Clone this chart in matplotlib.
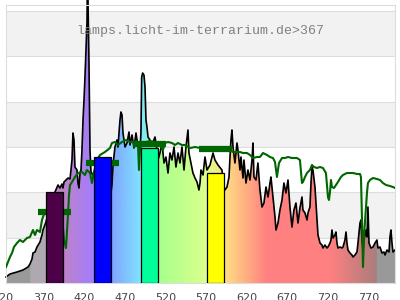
import numpy as np
import matplotlib
matplotlib.use('Agg')
import matplotlib.pyplot as plt
from matplotlib.transforms import blended_transform_factory

# lamp spectrum (relative intensity)
lamp_wl = [323.8, 328.7, 337.3, 344.7, 350.9, 353.3, 355.8, 357.0, 359.5, 361.9,
           365.6, 368.1, 369.3, 373.0, 377.9, 384.1, 387.8, 390.2, 392.7, 393.9,
           395.2, 397.6, 400.1, 402.6, 405.0, 406.2, 407.5, 408.7, 411.2, 412.4,
           413.6, 414.9, 416.1, 417.3, 418.6, 419.8, 421.0, 422.2, 423.5, 424.1,
           425.9, 427.2, 428.4, 430.9, 433.3, 439.5, 445.6, 451.8, 453.0, 454.2,
           455.5, 457.9, 460.4, 461.6, 464.1, 465.3, 466.6, 467.8, 470.3, 472.7,
           475.2, 476.4, 478.9, 481.3, 483.8, 486.3, 488.7, 489.9, 490.8, 492.0,
           493.6, 494.9, 496.1, 497.3, 498.6, 501.0, 503.5, 507.2, 509.6, 510.9,
           513.3, 515.8, 518.3, 520.7, 523.2, 525.6, 528.1, 530.6, 533.0, 535.5,
           537.9, 540.4, 542.9, 545.3, 547.8, 549.0, 551.5, 553.9, 556.4, 558.9,
           561.3, 562.6, 563.8, 566.3, 568.7, 571.2, 574.9, 578.6, 581.0, 584.7,
           589.6, 592.1, 593.3, 595.8, 598.3, 599.5, 600.7, 601.9, 603.2, 605.6,
           608.1, 609.3, 611.8, 613.0, 615.5, 616.7, 619.2, 621.6, 624.1, 626.6,
           627.8, 629.0, 631.5, 633.9, 636.4, 638.9, 641.3, 643.8, 646.3, 648.7,
           649.9, 652.4, 654.9, 656.1, 658.6, 661.0, 663.5, 665.9, 668.4, 670.9,
           673.3, 675.8, 678.2, 680.7, 683.2, 685.6, 688.1, 689.3, 691.8, 694.3,
           695.5, 697.9, 699.2, 700.4, 701.6, 704.1, 705.3, 707.8, 710.3, 712.7,
           713.9, 716.4, 718.9, 720.1, 722.6, 723.8, 725.0, 726.3, 728.7, 729.9,
           731.2, 732.4, 734.9, 737.3, 738.6, 741.0, 742.3, 743.5, 744.7, 747.2,
           749.6, 750.9, 753.3, 755.8, 757.0, 759.5, 760.7, 762.0, 763.2, 764.4,
           766.9, 768.1, 769.3, 770.6, 773.0, 775.5, 778.0, 780.4, 781.6, 784.1,
           786.6, 789.0, 790.3, 792.7, 795.2, 796.4, 797.6, 798.9, 800.1, 802.6]
lamp_val = [6, 9, 11, 13, 16, 19, 24, 30, 31, 36,
            41, 48, 53, 61, 78, 91, 98, 95, 99, 95,
            101, 103, 105, 104, 123, 150, 143, 116, 113, 100,
            95, 110, 113, 133, 163, 183, 206, 233, 261, 313,
            223, 133, 111, 108, 113, 118, 120, 108, 90, 98,
            118, 136, 143, 136, 163, 171, 168, 150, 136, 140,
            151, 138, 148, 135, 150, 136, 133, 150, 206, 210,
            208, 196, 163, 156, 146, 143, 138, 146, 133, 123,
            130, 140, 120, 126, 110, 130, 123, 136, 116, 130,
            120, 136, 113, 136, 153, 130, 120, 110, 105, 101,
            93, 100, 113, 108, 126, 113, 118, 130, 123, 118,
            113, 96, 93, 96, 106, 126, 143, 153, 136, 120,
            140, 133, 113, 126, 105, 123, 100, 113, 103, 123,
            140, 106, 103, 120, 93, 76, 80, 96, 86, 100,
            106, 86, 66, 53, 60, 73, 83, 100, 90, 103,
            76, 56, 73, 80, 60, 75, 86, 73, 70, 63,
            70, 76, 100, 116, 113, 96, 80, 48, 40, 38,
            35, 38, 35, 36, 40, 43, 53, 45, 48, 51,
            40, 35, 36, 35, 36, 43, 51, 40, 33, 30,
            28, 26, 28, 31, 40, 60, 63, 43, 33, 43,
            53, 46, 76, 40, 35, 36, 40, 43, 35, 36,
            30, 31, 28, 33, 31, 46, 53, 40, 31, 33]

# sunlight reference
sun_wl = [323.8, 326.2, 328.7, 331.2, 333.6, 337.3, 341.0, 344.7, 349.6, 353.3,
          357.0, 359.5, 361.9, 365.6, 368.1, 369.3, 373.0, 384.1, 392.7, 395.2,
          397.6, 400.1, 401.3, 402.6, 405.0, 408.7, 412.4, 417.3, 421.0, 423.5,
          427.2, 429.6, 432.1, 435.8, 439.5, 445.6, 451.8, 454.2, 457.9, 461.6,
          466.6, 471.5, 476.4, 481.3, 486.3, 487.5, 488.7, 491.2, 496.1, 501.0,
          505.9, 509.6, 513.3, 517.0, 519.5, 523.2, 528.1, 531.8, 535.5, 540.4,
          544.1, 550.3, 556.4, 562.6, 574.9, 587.2, 593.3, 598.3, 603.2, 608.1,
          611.8, 615.5, 620.4, 624.1, 627.8, 632.7, 636.4, 640.1, 645.0, 648.7,
          652.4, 654.9, 657.3, 659.8, 663.5, 667.2, 670.9, 675.8, 681.9, 685.6,
          688.1, 689.3, 691.8, 694.3, 697.9, 700.4, 702.9, 706.6, 710.3, 713.9,
          717.6, 720.1, 721.3, 722.6, 723.8, 725.0, 727.5, 729.9, 732.4, 736.1,
          738.6, 743.5, 747.2, 750.9, 755.8, 759.5, 760.7, 762.0, 763.2, 764.4,
          766.9, 768.1, 769.3, 771.8, 775.5, 780.4, 784.1, 787.8, 791.5, 796.4,
          800.1, 802.6]
sun_val = [16, 21, 26, 30, 36, 40, 43, 41, 45, 46,
           53, 48, 53, 51, 63, 66, 73, 83, 68, 43,
           35, 68, 88, 98, 101, 106, 110, 111, 108, 113,
           110, 100, 111, 123, 128, 131, 135, 140, 141, 138,
           141, 143, 141, 141, 138, 113, 133, 140, 141, 142,
           141, 140, 138, 133, 140, 141, 140, 138, 140, 138,
           138, 135, 136, 135, 136, 135, 133, 133, 131, 131,
           131, 130, 130, 128, 125, 126, 126, 130, 128, 126,
           125, 121, 106, 120, 125, 125, 126, 125, 125, 123,
           100, 101, 106, 110, 113, 118, 116, 115, 116, 115,
           110, 86, 83, 91, 103, 96, 95, 98, 101, 106,
           108, 110, 110, 110, 109, 109, 106, 63, 16, 46,
           76, 90, 100, 103, 105, 104, 103, 100, 98, 97,
           96, 95]

# band bars: lamp level and sunlight level per band
band_center = [383.3, 442.5, 500.4, 581.6]
band_lamp = [91, 126, 135, 110]
band_sun = [71, 120, 139, 134]
band_color = ['#4b0048', '#0000ff', '#00ff99', '#ffff00']

tick_wl = [320, 370, 420, 470, 520, 570, 620, 670, 720, 770]

# colour under the spectrum
grad_wl = [323.8, 353.2, 353.4, 373.0, 394.0, 433.0, 452.0, 491.0, 510.0,
           571.0, 592.0, 645.0, 723.0, 780.2, 780.4, 802.6]
grad_rgb = [(153, 153, 153), (153, 153, 153), (176, 168, 176), (176, 168, 176),
            (190, 130, 200), (160, 125, 255), (128, 160, 255), (128, 230, 255),
            (165, 255, 140), (220, 255, 140), (255, 225, 130), (255, 128, 128),
            (255, 128, 128), (170, 125, 125), (153, 153, 153), (153, 153, 153)]

x0, x1 = 323.8, 802.6
ytop = 278
step = 272 / 6

fig = plt.figure(figsize=(4, 3), dpi=100)
ax = fig.add_axes([6 / 400, 17 / 300, 389 / 400, 278 / 300])

# background bands and grid
for k in (1, 3, 5):
    ax.axhspan(k * step, (k + 1) * step, color='#f2f2f2', lw=0, zorder=0)
for k in range(1, 7):
    ax.axhline(k * step, color='#dddddd', lw=0.8, zorder=0.5)

# gradient fill clipped to the lamp spectrum
poly = ax.fill_between(lamp_wl, lamp_val, 0, facecolor='none', lw=0)
wl_grid = np.linspace(x0, x1, 1500)
rgb = np.stack([np.interp(wl_grid, grad_wl, [c[i] for c in grad_rgb]) for i in range(3)],
               axis=-1) / 255.0
img = ax.imshow(rgb[np.newaxis, :, :], extent=[x0, x1, 0, ytop], aspect='auto',
                origin='lower', zorder=1, interpolation='bilinear')
img.set_clip_path(poly.get_paths()[0], transform=ax.transData)

ax.plot(lamp_wl, lamp_val, color='black', lw=1.2, zorder=2, clip_on=False)
ax.plot(sun_wl, sun_val, color='#006600', lw=1.5, zorder=3)

bc = np.array(band_center)
ax.hlines(band_sun, bc - 20.5, bc + 20.5, color='#006600', lw=4.5,
          capstyle='butt', zorder=3.5)
ax.bar(band_center, band_lamp, width=20.5, color=band_color, edgecolor='black',
       linewidth=0.9, zorder=4)

ax.set_xlim(x0, x1)
ax.set_ylim(0, ytop)
ax.set_xticks([])
ax.set_yticks([])
for s in ax.spines.values():
    s.set_color('#dddddd')
    s.set_linewidth(0.8)

trans = blended_transform_factory(ax.transData, ax.transAxes)
for t in tick_wl:
    ax.text(t, -0.036, str(t), transform=trans, ha='center', va='top',
            fontsize=8, color='#444444', family='DejaVu Sans', clip_on=False)

ax.text(0.5, 0.906, 'lamps.licht-im-terrarium.de>367', transform=ax.transAxes,
        ha='center', va='center', fontsize=9.5, color='#808080',
        family='Liberation Mono', zorder=5)

plt.savefig('out.png', dpi=100)
